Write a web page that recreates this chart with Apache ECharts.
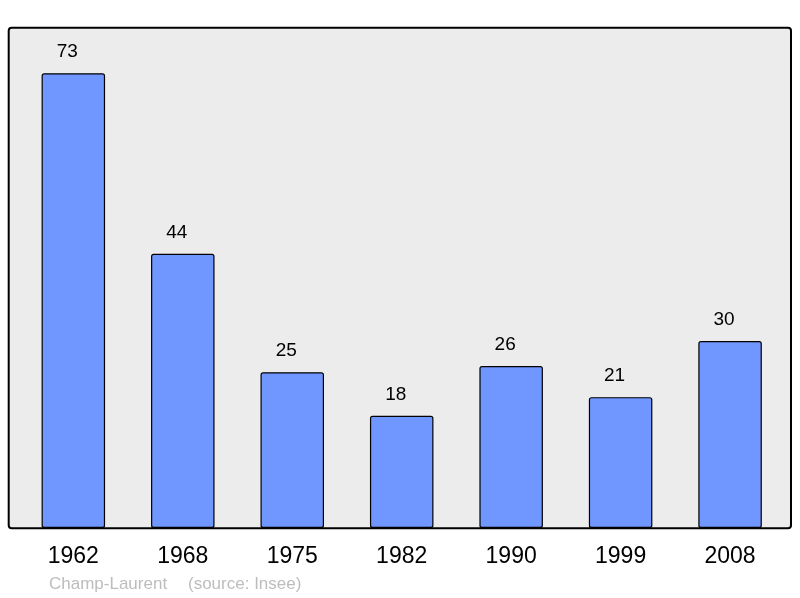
<!DOCTYPE html>
<html><head><meta charset="utf-8">
<script src="https://cdn.jsdelivr.net/npm/echarts@6/dist/echarts.min.js"></script>
<style>html,body{margin:0;padding:0;background:#fff}#c{width:800px;height:598px}</style>
</head><body><div id="c"></div>
<script>
const years = ['1962','1968','1975','1982','1990','1999','2008'];
const population = [73, 44, 25, 18, 26, 21, 30];
const placeName = 'Champ-Laurent';
const sourceText = '(source: Insee)';

const chart = echarts.init(document.getElementById('c'), null, {renderer:'canvas'});
chart.setOption({
  animation: false,
  backgroundColor: '#ffffff',
  textStyle: {fontFamily: 'Liberation Sans, Arial, sans-serif'},
  grid: {left: 18.6, width: 766.2, top: 27.7, bottom: 70, containLabel: false},
  graphic: [
    {type:'rect', z: 0, shape:{x:8.7, y:27.7, width:782.3, height:500.6, r:3},
     style:{fill:'#ececec', stroke:'#000', lineWidth:2}},
    {type:'text', z: 5, left: 49, top: 576, style:{text: placeName, fill:'#bdbdbd', font:'17px "Liberation Sans", Arial, sans-serif'}},
    {type:'text', z: 5, left: 188, top: 576, style:{text: sourceText, fill:'#bdbdbd', font:'17px "Liberation Sans", Arial, sans-serif'}}
  ],
  xAxis: {
    type: 'category', data: years, boundaryGap: true,
    axisLine: {show:false}, axisTick: {show:false},
    axisLabel: {color:'#000', fontSize: 23, lineHeight: 23, margin: 17, fontFamily:'Liberation Sans, Arial, sans-serif'}
  },
  yAxis: {type:'value', min:0, max:80.3, show:false, splitLine:{show:false}},
  series: [{
    type: 'bar', data: population, barWidth: 63.5, z: 2,
    itemStyle: {color:'#7097ff', borderColor:'#000', borderWidth:1.2, borderRadius:2},
    label: {show:true, position:'top', distance: 12, offset:[-6,0], color:'#000', fontSize:19, lineHeight:19,
            fontFamily:'Liberation Sans, Arial, sans-serif'}
  }]
});
</script></body></html>
